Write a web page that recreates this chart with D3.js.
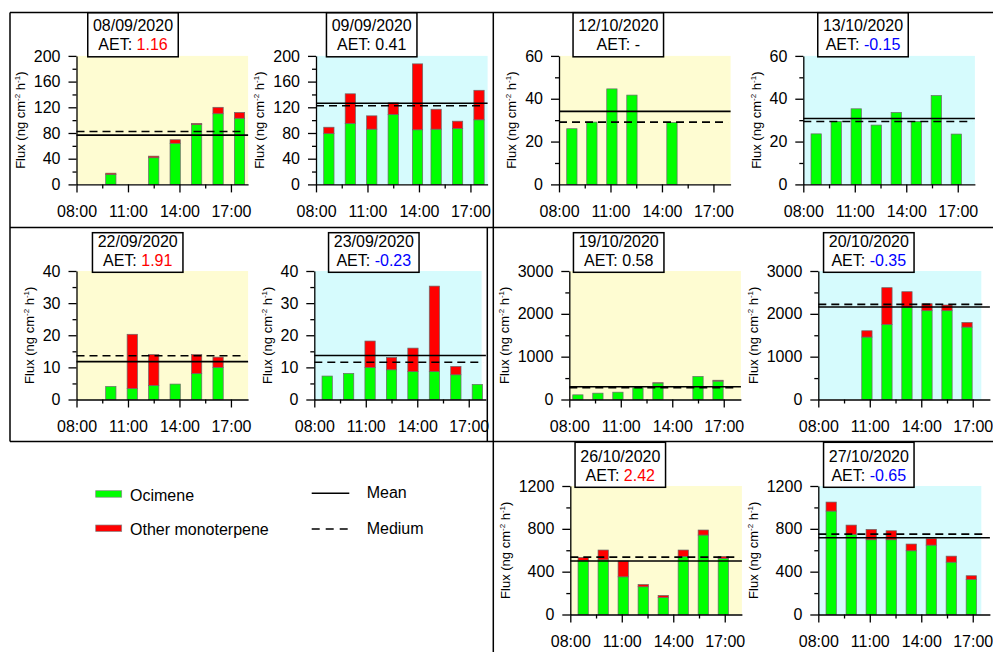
<!DOCTYPE html>
<html>
<head>
<meta charset="UTF-8">
<title>Monoterpene flux</title>
<style>
  body { margin: 0; background: #fff; }
  svg text { font-family: 'Liberation Sans', Arial, sans-serif; fill: #000; }
</style>
</head>
<body>
<svg width="993" height="652"></svg>
<script src="https://d3js.org/d3.v7.min.js"></script>
<script>
// panel order: row 1 left to right, row 2, row 3
const dates = ["08/09/2020", "09/09/2020", "12/10/2020", "13/10/2020",
               "22/09/2020", "23/09/2020", "19/10/2020", "20/10/2020",
               "26/10/2020", "27/10/2020"];
const aet = ["1.16", "0.41", "-", "-0.15", "1.91", "-0.23", "0.58", "-0.35", "2.42", "-0.65"];

// sampling times (bar centres)
const times = [
  ["10:00", "12:30", "13:45", "15:00", "16:15", "17:30"],
  ["08:45", "10:00", "11:15", "12:30", "13:55", "15:00", "16:15", "17:30"],
  ["08:45", "09:55", "11:05", "12:15", "14:35"],
  ["08:45", "09:55", "11:05", "12:15", "13:25", "14:35", "15:45", "16:55"],
  ["10:00", "11:15", "12:30", "13:45", "15:00", "16:15"],
  ["08:45", "10:00", "11:15", "12:30", "13:45", "15:00", "16:15", "17:30"],
  ["08:30", "09:40", "10:50", "12:00", "13:10", "15:30", "16:40"],
  ["10:50", "12:00", "13:10", "14:20", "15:30", "16:40"],
  ["08:45", "09:55", "11:05", "12:15", "13:25", "14:35", "15:45", "16:55"],
  ["08:45", "09:55", "11:05", "12:15", "13:25", "14:35", "15:45", "16:55"]
];

// Ocimene flux (ng cm-2 h-1)
const ocimene = [
  [15.5, 41.5, 64, 93, 110, 103],
  [79, 95, 86, 109, 85, 86, 87, 100.5],
  [26, 29.1, 44.6, 41.7, 28.9],
  [23.6, 29.4, 35.3, 27.7, 33.6, 29.4, 41.5, 23.5],
  [4.05, 3.4, 4.4, 4.8, 8.1, 10],
  [7.3, 8.1, 10, 9.25, 8.7, 8.7, 7.7, 4.7],
  [109, 148, 171, 273, 385, 538, 430],
  [1458, 1754, 2151, 2073, 2073, 1691],
  [505, 510, 352, 259, 159, 542, 742, 524],
  [966, 748, 698, 698, 595, 648, 489, 327]
];

// Other monoterpene flux (ng cm-2 h-1)
const other = [
  [2, 2.5, 5.5, 2, 10, 9],
  [10, 46, 20.7, 18, 102.6, 31, 11.4, 46],
  [0, 0, 0, 0, 0],
  [0, 0, 0, 0, 0, 0, 0, 0],
  [0, 16.9, 9.6, 0, 5.9, 3.2],
  [0, 0, 8.2, 3.85, 7.3, 26.6, 2.6, 0],
  [0, 0, 0, 0, 5, 0, 20],
  [147, 857, 366, 164, 133, 109],
  [28, 92, 147, 21, 19, 60, 47, 18],
  [84, 87, 97, 84, 63, 60, 56, 35]
];

const means   = [76.7, 126.4, 34.1, 30.8, 11.8, 13.7, 296, 2159, 499, 717];
const medians = [82.4, 122.3, 29.1, 29.4, 13.6, 11.6, 273, 2221, 536, 751];

const yTicks = [
  [0, 40, 80, 120, 160, 200], [0, 40, 80, 120, 160, 200],
  [0, 20, 40, 60], [0, 20, 40, 60],
  [0, 10, 20, 30, 40], [0, 10, 20, 30, 40],
  [0, 1000, 2000, 3000], [0, 1000, 2000, 3000],
  [0, 400, 800, 1200], [0, 400, 800, 1200]
];
const xTickHours = [8, 11, 14, 17];
const xTickLabels = ["08:00", "11:00", "14:00", "17:00"];
const xMinorHours = [9.5, 12.5, 15.5];

const legendBars = ["Ocimene", "Other monoterpene"];
const legendLines = ["Mean", "Medium"];

// layout
const YELLOW = "#fefcd2", CYAN = "#d6fbfd";
const GREEN = "#00ff00", RED = "#ff0000";
const layout = [
  {x0: 76.5,  row: 0, bx: 133,   bg: YELLOW},
  {x0: 316,   row: 0, bx: 371.7, bg: CYAN},
  {x0: 559,   row: 0, bx: 618.3, bg: YELLOW},
  {x0: 803.3, row: 0, bx: 863,   bg: CYAN},
  {x0: 76.5,  row: 1, bx: 137.7, bg: YELLOW},
  {x0: 314.3, row: 1, bx: 373.8, bg: CYAN, bgEnd: 17.75},
  {x0: 569.3, row: 1, bx: 618.7, bg: YELLOW},
  {x0: 818.3, row: 1, bx: 868.8, bg: CYAN, bgEnd: 17.5},
  {x0: 570.3, row: 2, bx: 620.3, bg: YELLOW},
  {x0: 818.3, row: 2, bx: 868.8, bg: CYAN, bgEnd: 17.5}
];
const rowTop = [55.9, 271, 486];
const plotH = 128.5;
const pxPerHour = 17.16;
const boxBottom = [56.8, 272.3, 487.3];
const boxH = [44.1, 39.6, 45];
const boxW = 90.5;

const svg = d3.select("svg");
const hour = s => { const [h, m] = s.split(":").map(Number); return h + m / 60; };
const aetColor = v => v === "-" ? "#000" : (+v < 0 ? "#0000ff" : (+v > 1 ? "#ff0000" : "#000"));

function styleAxis(sel) {
  sel.attr("font-size", 16).attr("font-family", "'Liberation Sans', Arial, sans-serif");
  sel.selectAll("path, line").attr("stroke", "#000").attr("stroke-width", 1.3);
  sel.selectAll("text").attr("fill", "#000");
}

dates.forEach((date, i) => {
  const L = layout[i];
  const top = rowTop[L.row], bottom = top + plotH;
  const x = d3.scaleLinear().domain([8, 18]).range([L.x0, L.x0 + 10 * pxPerHour]);
  const y = d3.scaleLinear().domain([0, d3.max(yTicks[i])]).range([bottom, top]);
  const g = svg.append("g").attr("class", "panel");

  g.append("rect")
    .attr("x", L.x0).attr("y", top)
    .attr("width", x(L.bgEnd || 18) - L.x0).attr("height", plotH)
    .attr("fill", L.bg);

  const rows = times[i].map((t, j) => ({t: hour(t), oc: ocimene[i][j], ot: other[i][j]}));
  const bw = x(8.6) - x(8);

  g.selectAll("rect.oc").data(rows).join("rect").attr("class", "oc")
    .attr("x", d => x(d.t) - bw / 2).attr("width", bw)
    .attr("y", d => y(d.oc)).attr("height", d => y(0) - y(d.oc))
    .attr("fill", GREEN).attr("stroke", "#6a6a6a").attr("stroke-width", 0.7);

  g.selectAll("rect.ot").data(rows.filter(d => d.ot > 0)).join("rect").attr("class", "ot")
    .attr("x", d => x(d.t) - bw / 2).attr("width", bw)
    .attr("y", d => y(d.oc + d.ot)).attr("height", d => y(d.oc) - y(d.oc + d.ot))
    .attr("fill", RED).attr("stroke", "#6a6a6a").attr("stroke-width", 0.7);

  // mean and median
  g.append("line")
    .attr("x1", x(8)).attr("x2", x(18))
    .attr("y1", y(means[i])).attr("y2", y(means[i]))
    .attr("stroke", "#000").attr("stroke-width", 1.6);
  g.append("line")
    .attr("x1", x(8)).attr("x2", x(17.85))
    .attr("y1", y(medians[i])).attr("y2", y(medians[i]))
    .attr("stroke", "#000").attr("stroke-width", 1.6).attr("stroke-dasharray", "8,5");

  // axes
  const yAxis = g.append("g").attr("transform", `translate(${L.x0},0)`)
    .call(d3.axisLeft(y).tickValues(yTicks[i]).tickSize(8).tickPadding(8).tickSizeOuter(0)
      .tickFormat(d3.format("d")))
    .call(styleAxis);
  const minorY = d3.pairs(yTicks[i]).map(([a, b]) => (a + b) / 2);
  g.append("g").attr("transform", `translate(${L.x0},0)`)
    .call(d3.axisLeft(y).tickValues(minorY).tickSize(4).tickFormat(""))
    .call(s => s.select(".domain").remove())
    .call(styleAxis);

  g.append("g").attr("transform", `translate(0,${bottom})`)
    .call(d3.axisBottom(x).tickValues(xTickHours).tickSize(8).tickPadding(13.5).tickSizeOuter(0)
      .tickFormat((d, k) => xTickLabels[k]))
    .call(styleAxis);
  g.append("g").attr("transform", `translate(0,${bottom})`)
    .call(d3.axisBottom(x).tickValues(xMinorHours).tickSize(4).tickFormat(""))
    .call(s => s.select(".domain").remove())
    .call(styleAxis);

  // y label
  const bb = yAxis.node().getBBox();
  const lx = L.x0 + bb.x - 13.5, ly = (top + bottom) / 2;
  const lab = g.append("text")
    .attr("transform", `translate(${lx},${ly}) rotate(-90)`)
    .attr("text-anchor", "middle").attr("dy", "0.35em").attr("font-size", 13);
  lab.append("tspan").text("Flux (ng cm");
  lab.append("tspan").attr("font-size", 8).attr("dy", -5).text("-2");
  lab.append("tspan").attr("dy", 5).text(" h");
  lab.append("tspan").attr("font-size", 8).attr("dy", -5).text("-1");
  lab.append("tspan").attr("dy", 5).text(")");

  // title box
  const bBot = boxBottom[L.row];
  g.append("rect")
    .attr("x", L.bx - boxW / 2).attr("y", bBot - boxH[L.row])
    .attr("width", boxW).attr("height", boxH[L.row])
    .attr("fill", "#fff").attr("stroke", "#000").attr("stroke-width", 1.5);
  g.append("text").attr("x", L.bx).attr("y", bBot - 25.4)
    .attr("text-anchor", "middle").attr("font-size", 16).text(date);
  const t2 = g.append("text").attr("x", L.bx).attr("y", bBot - 6.6)
    .attr("text-anchor", "middle").attr("font-size", 16);
  t2.append("tspan").text("AET: ");
  t2.append("tspan").style("fill", aetColor(aet[i])).text(aet[i]);
});

// frames
const frame = [
  [10, 12.4, 993, 12.4], [10, 227.5, 993, 227.5], [10, 441.5, 993, 441.5],
  [10, 12.4, 10, 441.5], [493.3, 12.4, 493.3, 652], [487.3, 227.5, 487.3, 441.5]
];
svg.append("g").selectAll("line").data(frame).join("line")
  .attr("x1", d => d[0]).attr("y1", d => d[1]).attr("x2", d => d[2]).attr("y2", d => d[3])
  .attr("stroke", "#000").attr("stroke-width", 1.5);

// legend
const leg = svg.append("g");
legendBars.forEach((name, k) => {
  const yy = 490.7 + k * 34.3;
  leg.append("rect").attr("x", 95.7).attr("y", yy).attr("width", 26).attr("height", 6.5)
    .attr("fill", k === 0 ? GREEN : RED).attr("stroke", "#888").attr("stroke-width", 0.7);
  leg.append("text").attr("x", 130).attr("y", yy + 10).attr("font-size", 16).text(name);
});
legendLines.forEach((name, k) => {
  const yy = 493.3 + k * 35.7;
  leg.append("line").attr("x1", 311.7).attr("x2", 349.3).attr("y1", yy).attr("y2", yy)
    .attr("stroke", "#000").attr("stroke-width", 1.5)
    .attr("stroke-dasharray", k === 1 ? "8,6" : null);
  leg.append("text").attr("x", 366.7).attr("y", yy + 5).attr("font-size", 16).text(name);
});
</script>
</body>
</html>
